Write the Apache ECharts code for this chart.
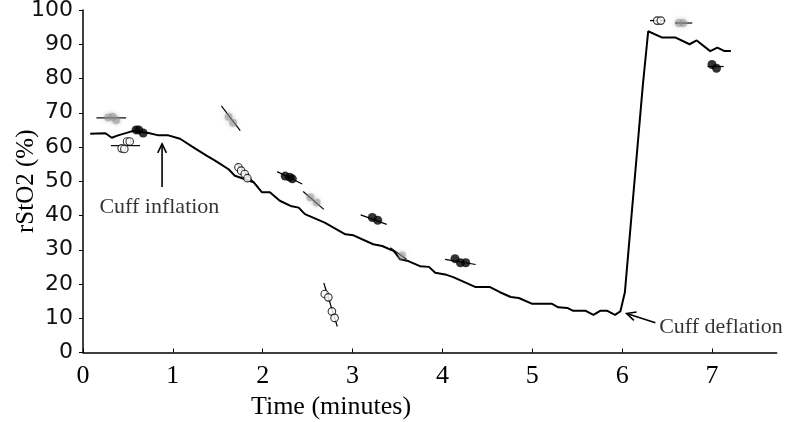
<!DOCTYPE html>
<html><head><meta charset="utf-8">
<script src="https://cdn.jsdelivr.net/npm/echarts@6/dist/echarts.min.js"></script>
<style>html,body{margin:0;padding:0;background:#fff}#c{width:786px;height:422px}</style>
</head><body><div id="c"></div>
<script>
const timeMin = [0.08,0.25,0.32,0.39,0.56,0.73,0.84,0.95,1.08,1.25,1.38,1.47,1.62,1.69,1.90,1.99,2.08,2.19,2.31,2.40,2.47,2.69,2.92,3.01,3.23,3.33,3.46,3.53,3.62,3.75,3.85,3.92,4.03,4.12,4.37,4.53,4.64,4.76,4.85,5.00,5.22,5.29,5.39,5.45,5.59,5.68,5.76,5.83,5.92,5.98,6.03,6.23,6.29,6.44,6.59,6.75,6.83,6.98,7.06,7.14,7.21];
const rsto2 = [63.9,64.0,62.7,63.4,64.7,64.1,63.4,63.4,62.4,59.5,57.4,56.0,53.5,51.6,49.7,46.8,46.8,44.3,42.8,42.3,40.4,37.9,34.5,34.2,31.6,31.1,29.6,27.2,26.7,25.2,25.0,23.3,22.8,22.0,19.1,19.1,17.6,16.2,15.9,14.2,14.2,13.2,13.0,12.2,12.2,11.0,12.2,12.2,11.0,12.0,17.5,78.0,93.8,92.0,92.0,90.0,91.1,88.0,89.0,88.0,88.0];
const xTicks = [0,1,2,3,4,5,6,7];
const yTicks = [0,10,20,30,40,50,60,70,80,90,100];
const greyDots = [[0.28,68.6],[0.33,68.8],[0.37,67.8],[1.62,68.8],[1.67,67.1],[2.53,45.3],[2.60,43.8],[3.55,28.3],[6.63,96.2],[6.68,96.2]];
const blackDots = [[0.59,65.0],[0.62,65.0],[0.67,64.1],[2.25,51.5],[2.30,51.2],[2.33,50.7],[3.22,39.4],[3.28,38.6],[4.14,27.4],[4.20,26.2],[4.26,26.2],[7.00,84.1],[7.05,83.0]];
const openDots = [[0.43,59.6],[0.46,59.4],[0.49,61.6],[0.52,61.6],[1.73,54.1],[1.76,53.1],[1.80,52.1],[1.83,50.9],[2.69,17.1],[2.73,16.1],[2.77,12.0],[2.80,10.1],[6.39,96.9],[6.43,96.9]];
const fitSegments = [[0.15,68.5,0.48,68.5],[0.31,60.4,0.635,60.4],[1.54,72.0,1.75,64.8],[1.71,55.1,1.95,48.3],[2.16,52.8,2.44,49.2],[2.45,47.0,2.68,41.8],[3.09,40.2,3.38,37.4],[2.68,20.3,2.83,7.6],[3.42,30.6,3.60,27.2],[4.03,27.2,4.37,25.7],[6.31,96.9,6.48,96.9],[6.59,96.2,6.78,96.2],[6.95,83.5,7.13,83.5]];
const arrows = [[0.88,48.3,0.88,60.9],[6.37,8.7,6.05,11.4]];
const notes = [['Cuff inflation',0.85,42.4],['Cuff deflation',7.10,7.5]];

const serif = '"Liberation Serif", serif';
const chart = echarts.init(document.getElementById('c'), null, {renderer:'canvas'});

function segRender(params, api) {
  const p1 = api.coord([api.value(0), api.value(1)]);
  const p2 = api.coord([api.value(2), api.value(3)]);
  return {type:'line', shape:{x1:p1[0],y1:p1[1],x2:p2[0],y2:p2[1]}, style:{stroke:'#000', lineWidth:1.2}};
}
function arrowRender(params, api) {
  const p1 = api.coord([api.value(0), api.value(1)]);
  const p2 = api.coord([api.value(2), api.value(3)]);
  const a = Math.atan2(p2[1]-p1[1], p2[0]-p1[0]);
  const L = 10, w = 0.45;
  const h1 = [p2[0]-L*Math.cos(a-w), p2[1]-L*Math.sin(a-w)];
  const h2 = [p2[0]-L*Math.cos(a+w), p2[1]-L*Math.sin(a+w)];
  return {type:'group', children:[
    {type:'line', shape:{x1:p1[0],y1:p1[1],x2:p2[0],y2:p2[1]}, style:{stroke:'#000', lineWidth:1.6}},
    {type:'polyline', shape:{points:[h1,p2,h2]}, style:{stroke:'#000', lineWidth:1.6, fill:null}}
  ]};
}

chart.setOption({
  animation:false,
  grid:{left:83, top:10, width:693.7, height:342.5, containLabel:false, outerBoundsMode:'none'},
  xAxis:{type:'value', min:0, max:7.72, interval:1,
    axisLine:{show:true, lineStyle:{color:'#000', width:1.5}},
    axisTick:{show:true, inside:true, length:4, customValues:xTicks, lineStyle:{color:'#000'}},
    axisLabel:{customValues:xTicks, color:'#000', fontFamily:serif, fontSize:26, margin:11},
    splitLine:{show:false}},
  yAxis:{type:'value', min:0, max:100, interval:10,
    axisLine:{show:true, lineStyle:{color:'#000', width:1.5}},
    axisTick:{show:true, length:4, lineStyle:{color:'#000'}},
    axisLabel:{color:'#111', fontFamily:'"DejaVu Sans", sans-serif', fontSize:22, margin:10},
    splitLine:{show:false},
    name:'rStO2 (%)', nameLocation:'middle', nameGap:44, nameMoveOverlap:false,
    nameTextStyle:{fontFamily:serif, fontSize:25, color:'#000'}},
  graphic:[{type:'text', x:331, y:407, style:{text:'Time (minutes)', font:'26px "Liberation Serif", serif', fill:'#000', align:'center', verticalAlign:'middle'}}],
  series:[
    {type:'line', data:timeMin.map((t,i)=>[t,rsto2[i]]), symbol:'none', lineStyle:{color:'#000', width:2}, z:3},
    {type:'custom', renderItem:segRender, data:fitSegments, z:4},
    {type:'scatter', data:greyDots, symbolSize:8, itemStyle:{color:'rgba(140,140,140,0.6)', shadowBlur:4, shadowColor:'rgba(140,140,140,0.8)'}, z:5},
    {type:'scatter', data:blackDots, symbolSize:9, itemStyle:{color:'#000'}, z:5},
    {type:'scatter', data:openDots, symbolSize:7.5, itemStyle:{color:'#fff', borderColor:'#000', borderWidth:1.1}, z:6},
    {type:'custom', renderItem:arrowRender, data:arrows, z:7},
    {type:'scatter', data:notes.map(n=>[n[1],n[2],n[0]]), symbolSize:0, z:8,
      label:{show:true, position:'inside', formatter:p=>p.value[2], fontFamily:serif, fontSize:22, color:'#000'}}
  ]
});
</script></body></html>
